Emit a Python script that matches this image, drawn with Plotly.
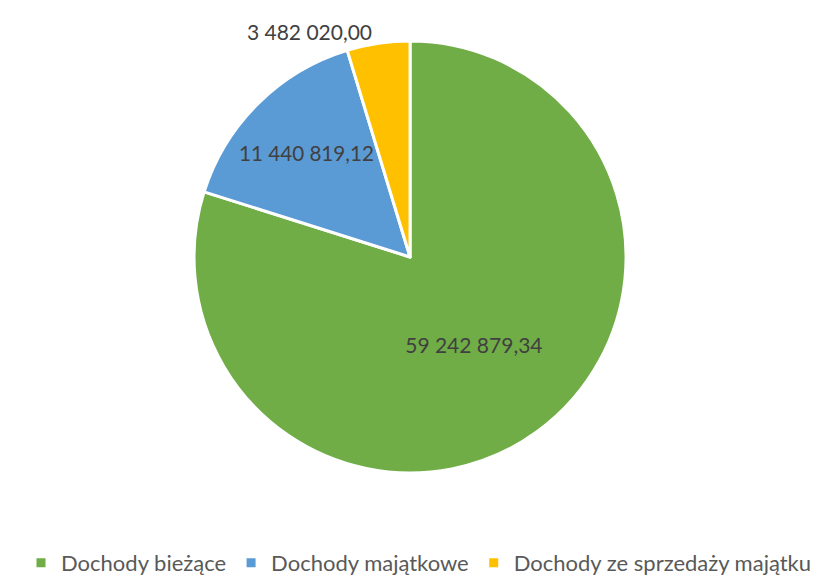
import plotly.graph_objects as go

# Data
labels = ["Dochody bieżące", "Dochody majątkowe", "Dochody ze sprzedaży majątku"]
values = [59242879.34, 11440819.12, 3482020.00]
colors = ["#70AD47", "#5B9BD5", "#FFC000"]


def fmt_pl(v):
    # Polish number format: space as thousands separator, comma for decimals
    return f"{v:,.2f}".replace(",", " ").replace(".", ",")


text_labels = [fmt_pl(v) for v in values]

fig = go.Figure()

fig.add_trace(go.Pie(
    labels=labels,
    values=values,
    text=text_labels,
    textinfo="text",
    textposition=["inside", "inside", "outside"],
    insidetextorientation="horizontal",
    textfont=dict(family="Lato", size=21, color="#404040"),
    marker=dict(colors=colors, line=dict(color="#FFFFFF", width=3)),
    sort=False,
    direction="clockwise",
    rotation=0,
    hole=0,
    domain=dict(x=[0.2263, 0.7519], y=[0.1927, 0.9427]),
    hoverinfo="label+value",
))

fig.update_layout(
    width=822,
    height=576,
    margin=dict(l=0, r=0, t=0, b=0),
    paper_bgcolor="white",
    plot_bgcolor="white",
    font=dict(family="Lato", color="#595959"),
    showlegend=True,
    legend=dict(
        orientation="h",
        x=0.5, xanchor="center",
        y=0.0, yanchor="bottom",
        font=dict(family="Lato", size=22, color="#595959"),
        itemwidth=30,
        traceorder="normal",
    ),
)

fig.write_html("out.html")
